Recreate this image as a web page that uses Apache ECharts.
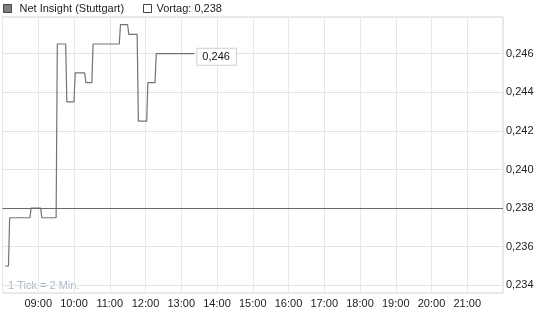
<!DOCTYPE html>
<html>
<head>
<meta charset="utf-8">
<script src="https://cdn.jsdelivr.net/npm/echarts@6/dist/echarts.min.js"></script>
<style>html,body{margin:0;padding:0;background:#fff}#c{width:545px;height:327px}</style>
</head>
<body>
<div id="c"></div>
<script>
// ---- data ----
const seriesName = 'Net Insight (Stuttgart)';
const prevName = 'Vortag: 0,238';
const prevClose = 0.238;
const times = ['08:04','08:10','08:12','08:46','08:48','09:04','09:06','09:30','09:32','09:46','09:48','10:00','10:02','10:18','10:20','10:30','10:32','11:16','11:18','11:30','11:32','11:46','11:48','12:02','12:04','12:16','12:18','13:22'];
const prices = [0.235,0.235,0.2375,0.2375,0.238,0.238,0.2375,0.2375,0.2465,0.2465,0.2435,0.2435,0.245,0.245,0.2445,0.2445,0.2465,0.2465,0.2475,0.2475,0.247,0.247,0.2425,0.2425,0.2445,0.2445,0.246,0.246];
const yTicks = [0.234,0.236,0.238,0.240,0.242,0.244,0.246];
const xTickHours = [9,10,11,12,13,14,15,16,17,18,19,20,21];
const noteText = '1 Tick = 2 Min.';

function toHours(t){const p=t.split(':');return +p[0]+(+p[1])/60;}
const lineData = times.map((t,i)=>[toHours(t),prices[i]]);
const fmt = v => v.toFixed(3).replace('.',',');
const font = 'Liberation Sans, Arial, sans-serif';

const chart = echarts.init(document.getElementById('c'), null, {renderer:'canvas'});
chart.setOption({
  animation:false,
  backgroundColor:'#fff',
  textStyle:{fontFamily:font},
  legend:[
    {left:3, top:3, padding:0, itemWidth:8, itemHeight:8, itemGap:0, selectedMode:false,
     textStyle:{fontSize:11,color:'#222',fontFamily:font,padding:[0,0,0,3]},
     data:[{name:seriesName, icon:'rect', itemStyle:{color:'#808080',borderColor:'#444',borderWidth:1}}]},
    {left:143, top:3, padding:0, itemWidth:8, itemHeight:8, itemGap:0, selectedMode:false,
     textStyle:{fontSize:11,color:'#222',fontFamily:font},
     data:[{name:prevName, icon:'rect', itemStyle:{color:'#fff',borderColor:'#444',borderWidth:1}}]}
  ],
  grid:{left:2.5, right:42, top:17, bottom:34, containLabel:false, outerBoundsMode:'none',
        show:true, borderColor:'#d4d4d4', borderWidth:1, backgroundColor:'transparent'},
  xAxis:{type:'value', min:8, max:22, interval:1,
    axisLine:{show:false}, axisTick:{show:false},
    axisLabel:{customValues:xTickHours, fontSize:11, color:'#222', margin:5, fontFamily:font,
      formatter:v=>String(Math.round(v)).padStart(2,'0')+':00'},
    splitLine:{show:true, lineStyle:{color:'#e8e8e8',width:1}}},
  yAxis:{type:'value', position:'right', min:0.2336, max:0.2479, scale:true,
    axisLine:{show:false}, axisTick:{show:false, customValues:yTicks},
    axisLabel:{customValues:yTicks, fontSize:11, color:'#222', margin:3, fontFamily:font, formatter:fmt},
    splitLine:{show:true, lineStyle:{color:'#e3e3e3',width:1}}},
  graphic:[{type:'text', left:8, top:280, silent:true,
    style:{text:noteText, fontSize:11, fill:'#a9b4c6', fontFamily:font}}],
  series:[
    {name:seriesName, type:'line', data:lineData, showSymbol:false, symbol:'none',
     itemStyle:{color:'#808080'}, lineStyle:{color:'#737373', width:1.2},
     endLabel:{show:true, formatter:p=>fmt(p.value[1]), fontSize:11, color:'#111', fontFamily:font,
       backgroundColor:'#fff', borderColor:'#d0d0d0', borderWidth:1, padding:[3,6,2,5], distance:3, offset:[0,3]},
     markLine:{silent:true, precision:4, symbol:['none','none'], label:{show:false},
       lineStyle:{color:'#6a6a6a', type:'solid', width:1}, data:[{yAxis:prevClose}]}},
    {name:prevName, type:'line', data:[], itemStyle:{color:'#fff'}}
  ]
});
</script>
</body>
</html>
